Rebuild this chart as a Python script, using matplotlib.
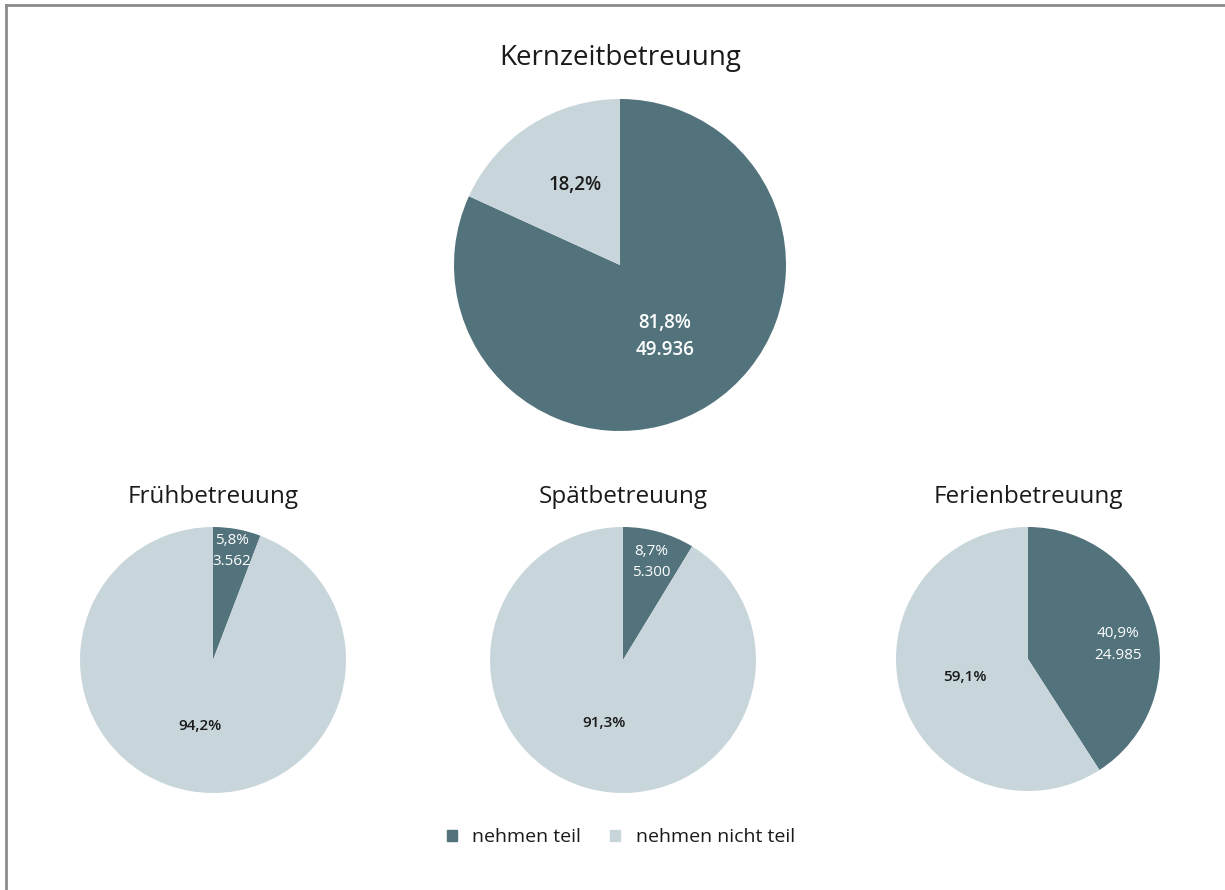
import matplotlib

matplotlib.use("Agg")
import matplotlib.pyplot as plt
from matplotlib.lines import Line2D
from matplotlib.patches import Rectangle

# --- data -----------------------------------------------------------
titles = ["Kernzeitbetreuung", "Frühbetreuung", "Spätbetreuung", "Ferienbetreuung"]
pct_teil = [81.8, 5.8, 8.7, 40.9]
pct_nicht = [18.2, 94.2, 91.3, 59.1]
n_teil = [49936, 3562, 5300, 24985]
legend_labels = ["nehmen teil", "nehmen nicht teil"]

DARK = "#52737c"
LIGHT = "#c8d6db"
TEXT = "#1a1a1a"

plt.rcParams["font.family"] = ["Open Sans", "DejaVu Sans"]

W, H = 1225, 890
fig = plt.figure(figsize=(W / 100, H / 100), dpi=100)

# pixel layout: (center x, center y, radius, title y)
layout = [(620, 265, 166, 58), (213, 660, 133, 497), (623, 660, 133, 497), (1028, 659, 132, 497)]
# label positions in pie units (teil, nicht teil)
label_pos = [((0.27, -0.43), (-0.27, 0.48)),
             ((0.14, 0.82), (-0.10, -0.50)),
             ((0.21, 0.74), (-0.14, -0.47)),
             ((0.68, 0.11), (-0.48, -0.14))]
teil_bold = [True, False, False, False]
title_size = [20, 17.5, 17.5, 17.5]
label_size = [13.5, 11, 11, 11]
line_sp = [1.43, 1.55, 1.55, 1.55]


def fmt_pct(v):
    return f"{v:.1f}%".replace(".", ",")


def fmt_n(v):
    return f"{v:,}".replace(",", ".")


for i, (cx, cy, r, ty) in enumerate(layout):
    ax = fig.add_axes([(cx - r) / W, (H - cy - r) / H, 2 * r / W, 2 * r / H])
    ax.pie([pct_teil[i], pct_nicht[i]], colors=[DARK, LIGHT], startangle=90,
           counterclock=False, radius=1, wedgeprops=dict(linewidth=0))
    ax.set_xlim(-1, 1)
    ax.set_ylim(-1, 1)
    ax.set_aspect("equal")
    ax.axis("off")

    (tx, tyy), (nx, ny) = label_pos[i]
    ax.text(tx, tyy, f"{fmt_pct(pct_teil[i])}\n{fmt_n(n_teil[i])}", color="white",
            ha="center", va="center", fontsize=label_size[i],
            fontweight="semibold" if teil_bold[i] else "normal", linespacing=line_sp[i])
    ax.text(nx, ny, fmt_pct(pct_nicht[i]), color=TEXT, ha="center", va="center",
            fontsize=label_size[i], fontweight="semibold")

    fig.text(cx / W, 1 - ty / H, titles[i], ha="center", va="center",
             fontsize=title_size[i], color=TEXT)

# legend
handles = [Rectangle((0, 0), 1, 1, color=c) for c in (DARK, LIGHT)]
fig.legend(handles, legend_labels, loc="center", bbox_to_anchor=(621 / W, 1 - 837 / H),
           ncol=2, frameon=False, fontsize=14, handlelength=0.5, handleheight=0.5,
           handletextpad=0.8, columnspacing=1.5, labelcolor=TEXT)

# outer frame: only top and left edges are visible
fig.lines.append(Line2D([6 / W, 1], [1 - 5 / H, 1 - 5 / H], transform=fig.transFigure,
                        color="#8c8c8c", linewidth=2))
fig.lines.append(Line2D([6 / W, 6 / W], [0, 1 - 5 / H], transform=fig.transFigure,
                        color="#8c8c8c", linewidth=2))

fig.savefig("out.png", dpi=100)
